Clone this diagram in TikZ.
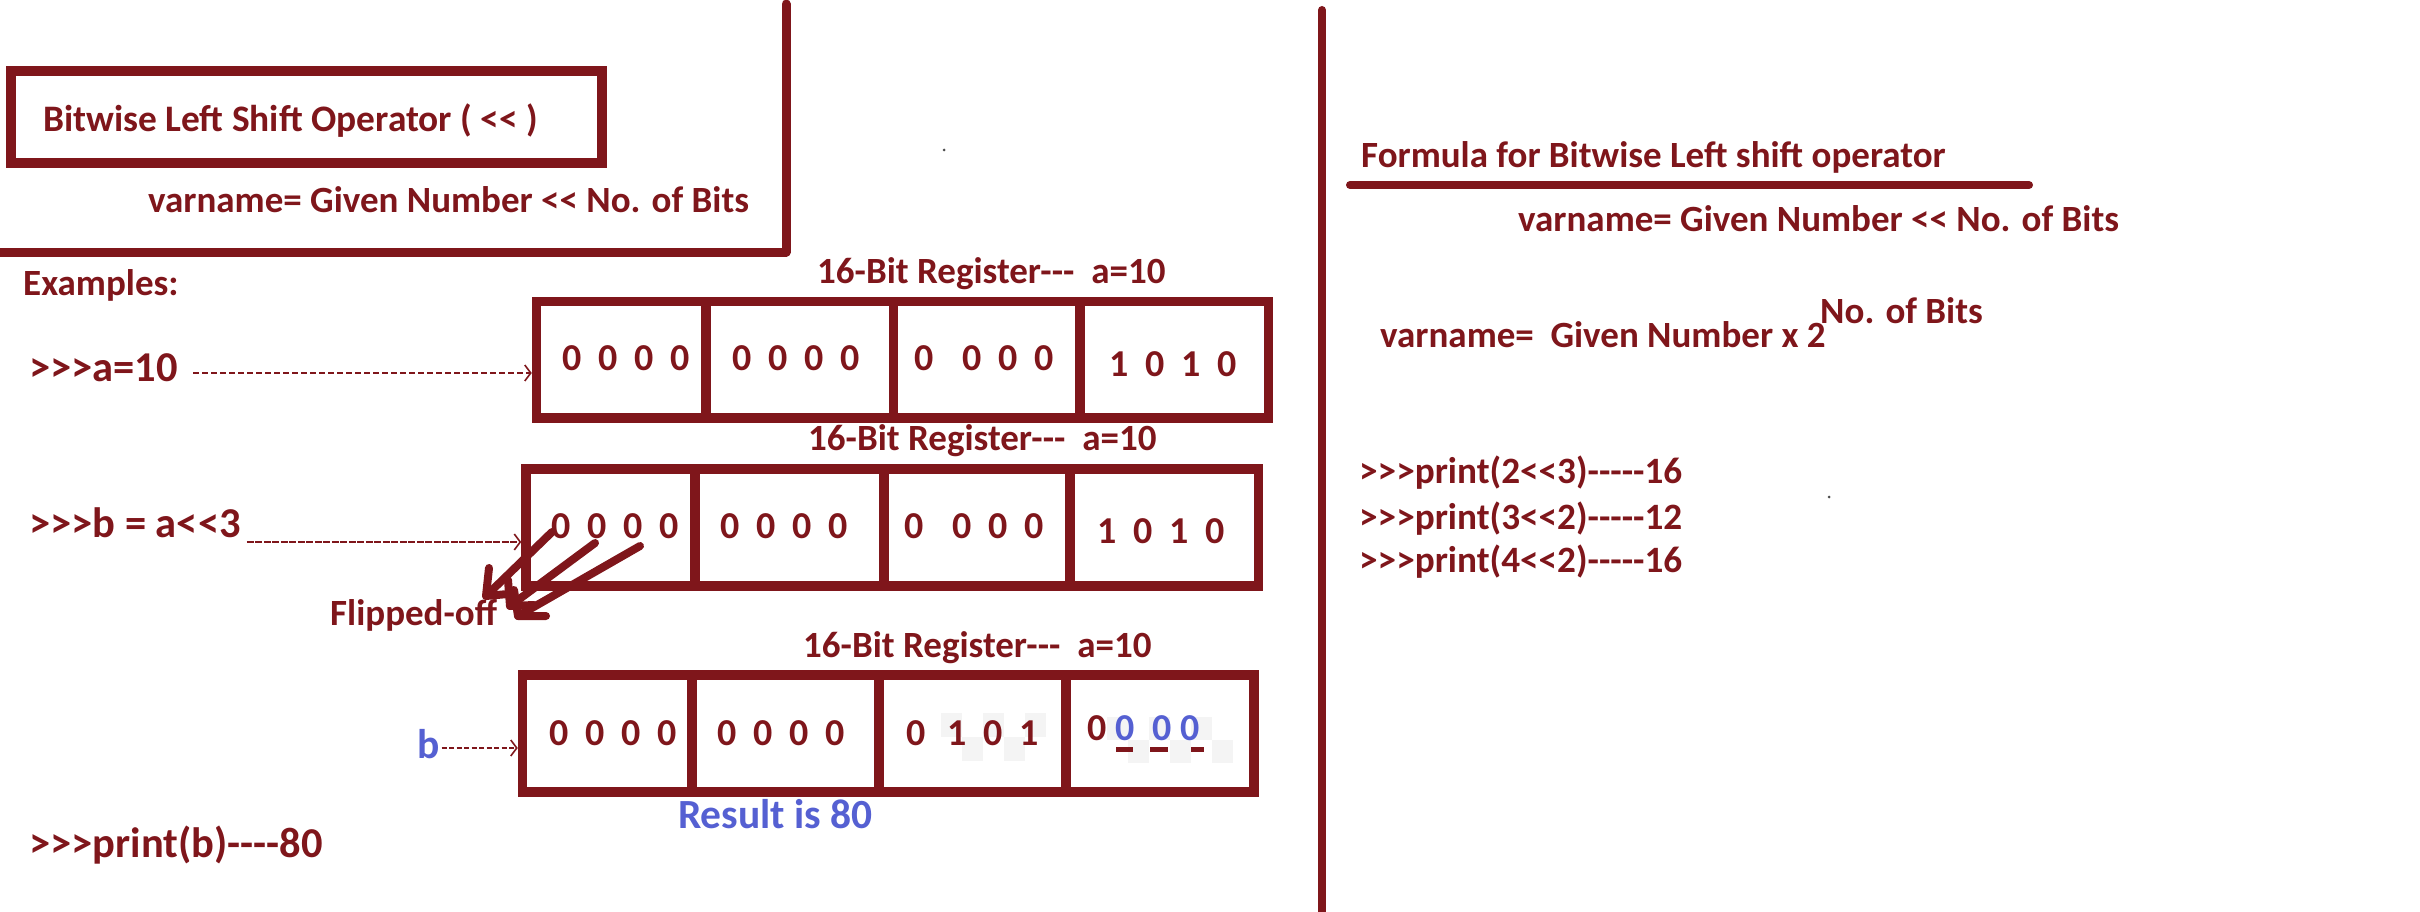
\documentclass[tikz,border=0pt]{standalone}
\usepackage{fontspec}
\setmainfont{Carlito}[Ligatures=TeXOff,BoldFont={Carlito Bold}]
\usetikzlibrary{arrows.meta}
\definecolor{dred}{HTML}{7F161B}
\definecolor{dblue}{HTML}{5560D2}
\newcommand\fsz[1]{\fontsize{#1pt}{#1pt}\selectfont\bfseries}
\newcommand\dg[1]{\makebox[36pt]{#1}}
\newcommand\hy{-\kern0pt}
\begin{document}
\begin{tikzpicture}[x=1pt,y=-1pt,
  txt/.style={anchor=base west, inner sep=0pt, text=dred, font=\fsz{37}},
  code/.style={txt, font=\fsz{42.5}},
  rcode/.style={txt, font=\fsz{37.2}},
  btxt/.style={txt, text=dblue, font=\fsz{41.5}},
  bits/.style={anchor=base, inner sep=0pt, text=dred, font=\fsz{38}},
  reg/.style={draw=dred, line width=9.5pt, outer sep=0pt, inner sep=0pt, rectangle},
  regl/.style={draw=dred, line width=9.5pt},
  bigline/.style={draw=dred, line width=9pt, line cap=round, line join=round},
  dasharr/.style={draw=dred, line width=1.6pt, dash pattern=on 6pt off 3pt,
     -{Straight Barb[length=6pt,width=16pt,line width=1.6pt]}},
  hand/.style={draw=dred, line width=8pt, line cap=round, line join=round},
  chk/.style={fill=gray!9, draw=none}
]
\useasboundingbox (0,0) rectangle (2420,912);

% frames and dividing lines
\draw[bigline] (0,252) -- (786,252) -- (786,4);
\draw[bigline, line width=8pt] (1322,10) -- (1322,912);
\draw[bigline, line width=8pt] (1350,185) -- (2029,185);
\node[draw=dred, line width=10pt, outer sep=0pt, inner sep=0pt,
      minimum width=591pt, minimum height=92pt] (titlebox) at (306.5,117) {};

% left texts
\node[txt, font=\fsz{37.4}] (title) at (43,132) {Bitwise Left Shift Operator ( << )};
\node[txt] (varL) at (148,213) {varname= Given Number << No. of Bits};
\node[txt] (ex) at (23,295) {Examples:};
\node[code] (acmd) at (29,381) {>>>a=10};
\node[code] (bcmd) at (29,537) {>>>b = a<<3};
\node[code] (pcmd) at (29,857) {>>>print(b)\hy\hy\hy-80};
\node[txt] (flip) at (330,625) {Flipped-off};
\node[btxt] (bvar) at (417,758) {b};
\node[btxt] (res) at (678,828) {Result is 80};

% register labels
\node[txt] (lab1) at (817,283) {16-Bit Register\hy\hy-\hspace{17pt}a=10};
\node[txt] (lab2) at (808,450) {16-Bit Register\hy\hy-\hspace{17pt}a=10};
\node[txt] (lab3) at (803,657) {16-Bit Register\hy\hy-\hspace{17pt}a=10};

% checker patches (pasted image background)
\foreach \i in {0,...,4}{\foreach \j in {0,1}{
  \pgfmathtruncatemacro\pr{mod(\i+\j,2)}
  \ifnum\pr=0 \fill[chk] (941+21*\i,713+24*\j) rectangle ++(21,24);\fi}}
\foreach \i in {0,...,5}{\foreach \j in {0,1}{
  \pgfmathtruncatemacro\pr{mod(\i+\j,2)}
  \ifnum\pr=0 \fill[chk] (1107+21*\i,717+23*\j) rectangle ++(21,23);\fi}}

% registers
\node[reg, minimum width=732pt, minimum height=116.5pt] (r1) at (902.5,359.75) {};
\node[reg, minimum width=732.5pt, minimum height=117pt] (r2) at (892.25,527.5) {};
\node[reg, minimum width=731.5pt, minimum height=117pt] (r3) at (888.25,733.5) {};
\foreach \o in {169.5,357,543.5}{\draw[regl] ([xshift=\o pt]r1.north west) -- ([xshift=\o pt]r1.south west);}
\foreach \o in {169,358,544}{\draw[regl] ([xshift=\o pt]r2.north west) -- ([xshift=\o pt]r2.south west);}
\foreach \o in {169.5,356.5,543.5}{\draw[regl] ([xshift=\o pt]r3.north west) -- ([xshift=\o pt]r3.south west);}

% bits
\node[bits] (r1a) at (626,370) {\dg0\dg0\dg0\dg0};
\node[bits] (r1b) at (796,370) {\dg0\dg0\dg0\dg0};
\node[bits] (r1c) at (984,370) {\dg0\hspace{12pt}\dg0\dg0\dg0};
\node[bits] (r1d) at (1173,376) {\dg1\dg0\dg1\dg0};
\node[bits] (r2a) at (615.5,538) {\dg0\dg0\dg0\dg0};
\node[bits] (r2b) at (784,538) {\dg0\dg0\dg0\dg0};
\node[bits] (r2c) at (974.5,538) {\dg0\hspace{12pt}\dg0\dg0\dg0};
\node[bits] (r2d) at (1161,543) {\dg1\dg0\dg1\dg0};
\node[bits] (r3a) at (613.5,745) {\dg0\dg0\dg0\dg0};
\node[bits] (r3b) at (781.5,745) {\dg0\dg0\dg0\dg0};
\node[bits] (r3c) at (970,745) {\makebox[46pt]{0}\dg1\dg0\dg1};
\node[bits] (r3d) at (1097,740) {0};
\node[bits, text=dblue] (z1) at (1125,740) {0};
\node[bits, text=dblue] (z2) at (1162,740) {0};
\node[bits, text=dblue] (z3) at (1190,740) {0};
\draw[draw=dred, line width=4.5pt] ([xshift=-9pt,yshift=-9.5pt]z1.base) -- ([xshift=8pt,yshift=-9.5pt]z1.base);
\draw[draw=dred, line width=4.5pt] ([xshift=-12pt,yshift=-9.5pt]z2.base) -- ([xshift=6pt,yshift=-9.5pt]z2.base);
\draw[draw=dred, line width=4.5pt] ([xshift=1pt,yshift=-9.5pt]z3.base) -- ([xshift=14pt,yshift=-9.5pt]z3.base);

% connectors
\coordinate (aS) at ([xshift=15pt,yshift=8pt]acmd.base east);
\draw[dasharr, shorten >=4.75pt] (aS) -- (aS -| r1.west);
\coordinate (bS) at ([xshift=6pt,yshift=-5pt]bcmd.base east);
\draw[dasharr, dash pattern=on 7pt off 1.5pt, shorten >=4.75pt] (bS) -- (bS -| r2.west);
\coordinate (vS) at ([xshift=2pt,yshift=10pt]bvar.base east);
\draw[dasharr, dash pattern=on 5pt off 2.5pt, shorten >=4.75pt] (vS) -- (vS -| r3.west);

% hand-drawn flipped-off arrows
\coordinate (h1s) at (552,532); \coordinate (h1t) at (486,596);
\coordinate (h2s) at (595,543); \coordinate (h2t) at (510,606);
\coordinate (h3s) at (640,546); \coordinate (h3t) at (518,616);
\draw[hand] (h1s) -- (h1t);
\draw[hand] ([xshift=3pt,yshift=28pt]h1t) -- (h1t) -- ([xshift=22pt,yshift=2pt]h1t);
\draw[hand] (h2s) -- (h2t);
\draw[hand] ([xshift=-2pt,yshift=26pt]h2t) -- (h2t) -- ([xshift=24pt,yshift=1pt]h2t);
\draw[hand] (h3s) -- (h3t);
\draw[hand] ([xshift=-4pt,yshift=26pt]h3t) -- (h3t) -- ([xshift=28pt,yshift=0pt]h3t);

% right side
\node[txt] (form) at (1361,168) {Formula for Bitwise Left shift operator};
\node[txt] (varR) at (1518,232) {varname= Given Number << No. of Bits};
\node[txt] (var2) at (1380,347) {varname=\ \ Given Number x 2};
\node[txt] (supb) at (1820,323) {No. of Bits};
\node[rcode] (p1) at (1359,483) {>>>print(2<<3)\hy\hy\hy\hy-16};
\node[rcode] (p2) at (1359,529) {>>>print(3<<2)\hy\hy\hy\hy-12};
\node[rcode] (p3) at (1359,572) {>>>print(4<<2)\hy\hy\hy\hy-16};

% specks
\fill[black!70] (944,150) circle (1.5);
\fill[black!70] (1829,497) circle (1.5);
\end{tikzpicture}
\end{document}
